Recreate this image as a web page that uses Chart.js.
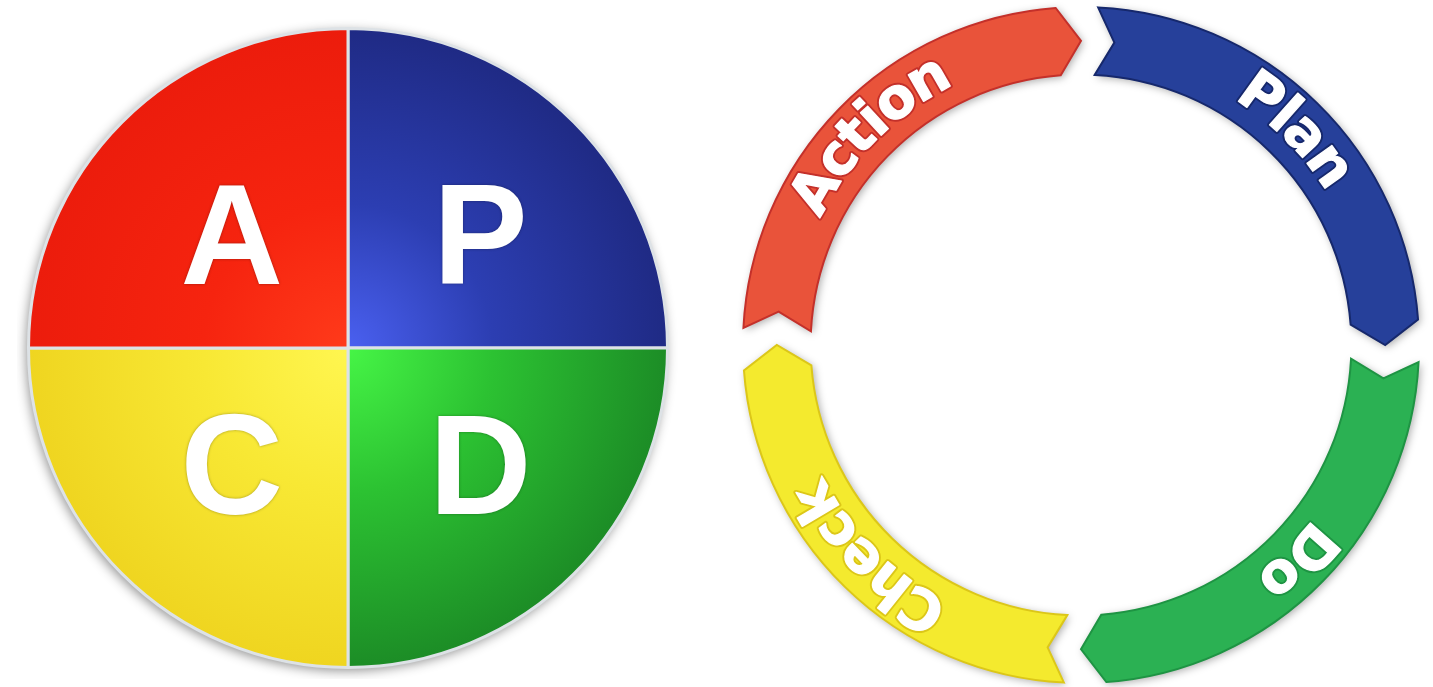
<!DOCTYPE html>
<html>
<head>
<meta charset="utf-8">
<title>PDCA cycle</title>
<script src="https://cdn.jsdelivr.net/npm/chart.js@4.4.1/dist/chart.umd.min.js"></script>
<style>
    html, body { margin: 0; padding: 0; background: #ffffff; overflow: hidden; }
    body { width: 1433px; height: 687px; position: relative; }
    #pie-box { position: absolute; left: 17px; top: 17px; }
    #ring-box { position: absolute; left: 733px; top: -3px; }
</style>
</head>
<body>
<div id="pie-box"><canvas id="pdca-pie" width="662" height="662"></canvas></div>
<div id="ring-box"><canvas id="pdca-ring" width="696" height="696"></canvas></div>
<script>
// Quadrants of the PDCA wheel, clockwise from 12 o'clock
const quadrantLetters = ['P', 'D', 'C', 'A'];
const quadrantShares = [25, 25, 25, 25];

// Arrows of the cycle, clockwise from 12 o'clock
const phaseNames = ['Plan', 'Do', 'Check', 'Action'];
const phaseShares = [25, 25, 25, 25];

// Colours (centre -> middle -> rim) for the wheel
const quadrantGradients = [
    ['#4a60f0', '#2c3eb2', '#1f2a84'],
    ['#46f546', '#2cc232', '#1c8c26'],
    ['#fff650', '#f8e834', '#efd520'],
    ['#ff3a1a', '#f6240f', '#ec1c0c']
];

// Colours for the arrow ring
const ringFill = ['#26409a', '#2bb153', '#f4ea2e', '#e9533a'];
const ringEdge = ['#16286c', '#1e9443', '#dcc718', '#c4302a'];

// Arrow shape, in degrees of the ring
const HEAD_DEG = 4.3;   // length of the arrow point
const LEAD_DEG = 2.9;   // gap before the next arrow starts
const NOTCH_DEG = 3.4;  // depth of the tail notch

const rad = d => d * Math.PI / 180;

/**
 * Soft shadow under the wheel, plus the big white letters on top
 */
const wheelDecor = {
    id: 'wheelDecor',
    beforeDatasetsDraw(chart) {
        const arc = chart.getDatasetMeta(0).data[0];
        if (!arc) return;
        const ctx = chart.ctx;
        ctx.save();
        ctx.shadowColor = 'rgba(0,0,0,0.45)';
        ctx.shadowBlur = 12;
        ctx.shadowOffsetX = -2;
        ctx.shadowOffsetY = 3;
        ctx.fillStyle = '#ffffff';
        ctx.beginPath();
        ctx.arc(arc.x, arc.y, arc.outerRadius, 0, Math.PI * 2);
        ctx.fill();
        ctx.restore();
    },
    afterDatasetsDraw(chart) {
        const ctx = chart.ctx;
        const meta = chart.getDatasetMeta(0);
        ctx.save();
        ctx.font = 'bold 142px "Liberation Sans", Arial, sans-serif';
        ctx.textAlign = 'center';
        ctx.textBaseline = 'alphabetic';
        ctx.fillStyle = '#ffffff';
        ctx.shadowColor = 'rgba(0,0,0,0.35)';
        ctx.shadowBlur = 3;
        meta.data.forEach((arc, i) => {
            const mid = (arc.startAngle + arc.endAngle) / 2;
            // letters sit a little wider than tall, and a touch right of centre
            const x = arc.x + 8 + Math.cos(mid) * arc.outerRadius * 0.55;
            const y = arc.y + Math.sin(mid) * arc.outerRadius * 0.51;
            ctx.fillText(chart.data.labels[i], x, y + 51);
        });
        ctx.restore();
    }
};

/**
 * Outline of one arrow, inside the angular range of its own arc
 */
function arrowPath(ctx, arc) {
    const { x, y, startAngle, endAngle, innerRadius, outerRadius } = arc;
    const midR = (innerRadius + outerRadius) / 2;
    const a0 = startAngle + rad(LEAD_DEG);
    const a1 = endAngle - rad(HEAD_DEG);
    const notch = a0 + rad(NOTCH_DEG);
    ctx.moveTo(x + outerRadius * Math.cos(a0), y + outerRadius * Math.sin(a0));
    ctx.arc(x, y, outerRadius, a0, a1);
    ctx.lineTo(x + midR * Math.cos(endAngle), y + midR * Math.sin(endAngle));
    ctx.lineTo(x + innerRadius * Math.cos(a1), y + innerRadius * Math.sin(a1));
    ctx.arc(x, y, innerRadius, a1, a0, true);
    ctx.lineTo(x + midR * Math.cos(notch), y + midR * Math.sin(notch));
    ctx.closePath();
}

/**
 * Write text along the ring, clockwise, letter tops facing outwards
 */
function drawArcText(ctx, text, cx, cy, radius, midAngle, edge) {
    const chars = [...text];
    const widths = chars.map(ch => ctx.measureText(ch).width);
    const total = widths.reduce((a, b) => a + b, 0);
    let angle = midAngle - total / radius / 2;
    chars.forEach((ch, i) => {
        const a = angle + widths[i] / radius / 2;
        ctx.save();
        ctx.translate(cx + radius * Math.cos(a), cy + radius * Math.sin(a));
        ctx.rotate(a + Math.PI / 2);
        ctx.lineWidth = 5;
        ctx.strokeStyle = edge;
        ctx.strokeText(ch, 0, 0);
        ctx.fillText(ch, 0, 0);
        // a hair of white stroke makes the face heavier
        ctx.lineWidth = 1.2;
        ctx.strokeStyle = '#ffffff';
        ctx.strokeText(ch, 0, 0);
        ctx.restore();
        angle += widths[i] / radius;
    });
}

/**
 * Turns the doughnut slices into arrows and labels them
 */
const ringArrows = {
    id: 'ringArrows',
    afterDatasetsDraw(chart) {
        const ctx = chart.ctx;
        const arcs = chart.getDatasetMeta(0).data;

        // keep only the arrow shapes of the drawn slices
        ctx.save();
        ctx.globalCompositeOperation = 'destination-in';
        ctx.beginPath();
        arcs.forEach(arc => arrowPath(ctx, arc));
        ctx.fill();
        ctx.restore();

        // thin darker rim
        ctx.save();
        ctx.lineWidth = 2;
        arcs.forEach((arc, i) => {
            ctx.beginPath();
            arrowPath(ctx, arc);
            ctx.strokeStyle = ringEdge[i];
            ctx.stroke();
        });
        ctx.restore();

        // drop shadow underneath
        ctx.save();
        ctx.globalCompositeOperation = 'destination-over';
        ctx.shadowColor = 'rgba(0,0,0,0.35)';
        ctx.shadowBlur = 8;
        ctx.shadowOffsetX = 2;
        ctx.shadowOffsetY = 2;
        ctx.fillStyle = '#ffffff';
        ctx.beginPath();
        arcs.forEach(arc => arrowPath(ctx, arc));
        ctx.fill();
        ctx.restore();

        // labels
        ctx.save();
        ctx.font = 'bold 56px "DejaVu Sans", Verdana, sans-serif';
        ctx.textAlign = 'center';
        ctx.textBaseline = 'middle';
        ctx.fillStyle = '#ffffff';
        ctx.lineJoin = 'round';
        arcs.forEach((arc, i) => {
            const midR = (arc.innerRadius + arc.outerRadius) / 2;
            const mid = (arc.startAngle + arc.endAngle) / 2;
            drawArcText(ctx, chart.data.labels[i], arc.x, arc.y, midR, mid, ringEdge[i]);
        });
        ctx.restore();
    }
};

new Chart(document.getElementById('pdca-pie'), {
    type: 'pie',
    data: {
        labels: quadrantLetters,
        datasets: [{
            data: quadrantShares,
            backgroundColor: function(context) {
                const chart = context.chart;
                const area = chart.chartArea;
                const stops = quadrantGradients[context.dataIndex];
                if (!area) return stops[1];
                const cx = (area.left + area.right) / 2;
                const cy = (area.top + area.bottom) / 2;
                const r = Math.min(area.width, area.height) / 2;
                const g = chart.ctx.createRadialGradient(cx, cy, 0, cx, cy, r);
                g.addColorStop(0, stops[0]);
                g.addColorStop(0.45, stops[1]);
                g.addColorStop(1, stops[2]);
                return g;
            },
            borderColor: '#dde2e6',
            borderWidth: 3
        }]
    },
    options: {
        responsive: false,
        animation: false,
        events: [],
        layout: { padding: 10 },
        plugins: {
            legend: { display: false },
            tooltip: { enabled: false }
        }
    },
    plugins: [wheelDecor]
});

new Chart(document.getElementById('pdca-ring'), {
    type: 'doughnut',
    data: {
        labels: phaseNames,
        datasets: [{
            data: phaseShares,
            backgroundColor: ringFill,
            borderWidth: 0
        }]
    },
    options: {
        responsive: false,
        animation: false,
        events: [],
        cutout: '80%',
        layout: { padding: 10 },
        plugins: {
            legend: { display: false },
            tooltip: { enabled: false }
        }
    },
    plugins: [ringArrows]
});
</script>
</body>
</html>
